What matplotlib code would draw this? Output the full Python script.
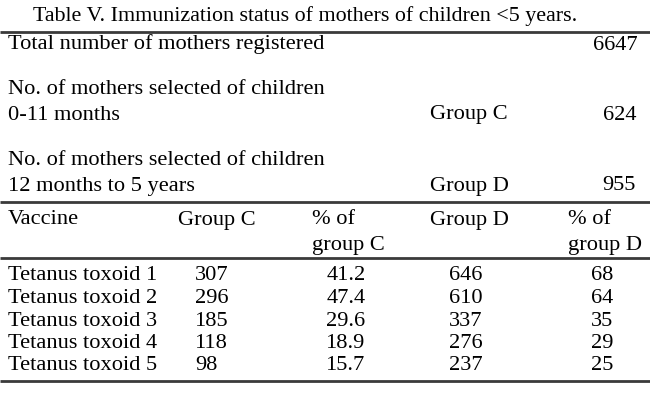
import matplotlib
matplotlib.use('Agg')
import matplotlib.pyplot as plt

# Table content
title = 'Table V. Immunization status of mothers of children <5 years.'
total_label = 'Total number of mothers registered'
total_mothers = 6647
group_labels = ['Group C', 'Group D']
group_desc = [['No. of mothers selected of children', '0-11 months'],
              ['No. of mothers selected of children', '12 months to 5 years']]
group_sizes = [624, 955]

vaccines = ['Tetanus toxoid 1', 'Tetanus toxoid 2', 'Tetanus toxoid 3',
            'Tetanus toxoid 4', 'Tetanus toxoid 5']
group_c = [307, 296, 185, 118, 98]
pct_c = ['41.2', '47.4', '29.6', '18.9', '15.7']
group_d = [646, 610, 337, 276, 237]
pct_d = ['68', '64', '35', '29', '25']

plt.rcParams['font.family'] = ['Liberation Serif', 'DejaVu Serif']
FS = 16.1

fig = plt.figure(figsize=(6.5, 4.07), dpi=100)
ax = fig.add_axes([0, 0, 1, 1])
ax.set_xlim(0, 650)
ax.set_ylim(407, 0)
ax.axis('off')

# y values below are text baselines in pixels from the top
def txt(x, y, s, ha='left', fs=FS):
    ax.text(x, y, s, ha=ha, va='baseline', fontsize=fs, color='black')

def hline(y, lw=2.0):
    ax.plot([0, 650], [y, y], color='#3a3a3a', lw=lw, solid_capstyle='butt')

# title
txt(305, 21, title, ha='center', fs=15.8)
hline(32)

# summary block
txt(8, 49.5, total_label)
txt(638, 49.5, str(total_mothers), ha='right')
for i, (desc, lab, n) in enumerate(zip(group_desc, group_labels, group_sizes)):
    y0 = 94 + i * 71
    txt(8, y0, desc[0])
    txt(8, y0 + 25.5, desc[1])
    txt(430, y0 + 25.5, lab)
    txt(636, y0 + 25.5, str(n), ha='right')
hline(202)

# header
txt(8, 224.5, 'Vaccine')
txt(178, 224.5, 'Group C')
txt(312, 224.5, '% of')
txt(312, 250, 'group C')
txt(430, 224.5, 'Group D')
txt(568, 224.5, '% of')
txt(568, 250, 'group D')
hline(258)

# body rows
for i, v in enumerate(vaccines):
    y = 280.5 + i * 22.5
    txt(8, y, v)
    txt(195, y, str(group_c[i]))
    txt(346, y, pct_c[i], ha='center')
    txt(466, y, str(group_d[i]), ha='center')
    txt(602, y, pct_d[i], ha='center')
hline(381)

fig.savefig('out.png', dpi=100, facecolor='white')
